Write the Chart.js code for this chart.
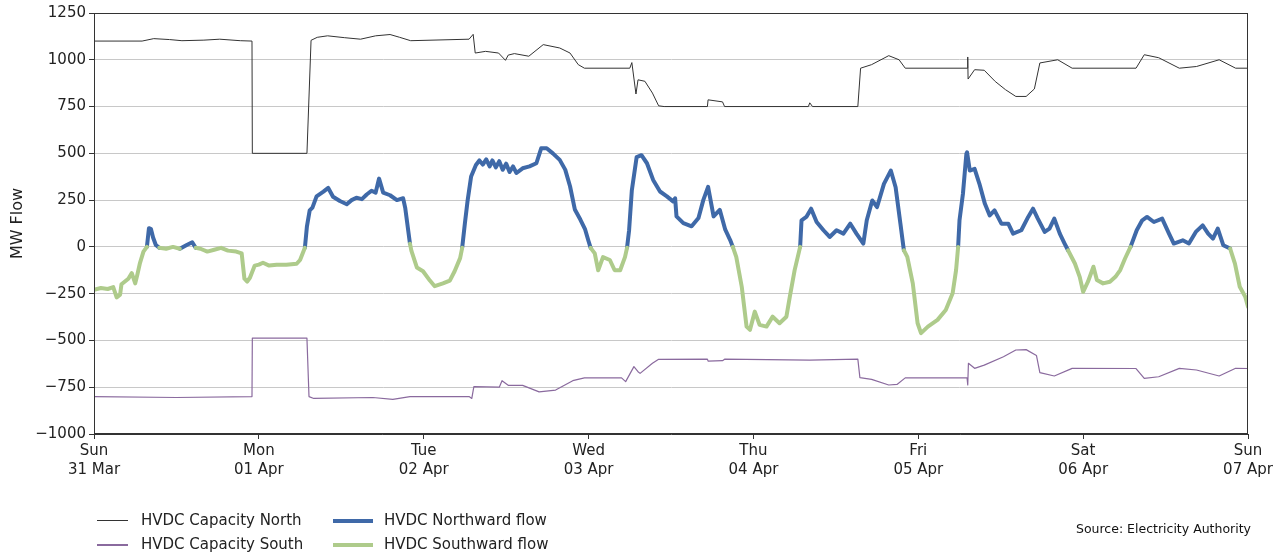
<!DOCTYPE html>
<html>
<head>
<meta charset="utf-8">
<script src="https://cdn.jsdelivr.net/npm/chart.js@4"></script>
<style>
  body { margin: 0; background: #fff; font-family: "DejaVu Sans", sans-serif; }
  #wrap { position: relative; width: 1288px; height: 556px; }
  #legend { position: absolute; left: 97px; top: 510px; font-size: 15px; color: #222; }
  .item { position: absolute; white-space: nowrap; height: 20px; line-height: 20px; }
  .item span { display: inline-block; vertical-align: middle; width: 31px; margin-right: 13px; }
  #source { position: absolute; right: 37px; top: 521px; font-size: 12.5px; color: #111; }
</style>
</head>
<body>
<div id="wrap">
  <canvas id="hvdc-chart" width="1288" height="556"></canvas>
  <div id="legend"></div>
  <div id="source">Source: Electricity Authority</div>
</div>
<script>
// x axis: hours from Sun 31 Mar 00:00
var dayNames = ["Sun", "Mon", "Tue", "Wed", "Thu", "Fri", "Sat", "Sun"];
var dayDates = ["31 Mar", "01 Apr", "02 Apr", "03 Apr", "04 Apr", "05 Apr", "06 Apr", "07 Apr"];
var yTicks = [-1000, -750, -500, -250, 0, 250, 500, 750, 1000, 1250];

var capNorthHours = [0, 7, 8.7, 11, 12.8, 16, 18.3, 21.3, 23.0, 23.05, 31.0, 31.6, 32.5, 34.0, 36.5, 38.8, 41, 43.1, 44.5, 46.1,
  54.6, 55.2, 55.5, 57.0, 58.9, 59.9, 60.3, 61.2, 63.3, 65.4, 67.8, 69.3, 70.5, 71.4, 78.0, 78.3, 78.9, 79.2, 80.2, 81.3,
  82.2, 83, 89.3, 89.4, 91.5, 91.8, 104.0, 104.2, 104.6, 111.2, 111.6, 113.2, 115.7, 117.2, 118.1, 127.1, 127.2, 127.25,
  128.2, 129.6, 131.2, 132.7, 134.2, 135.7, 136.9, 137.7, 140.3, 142.4, 151.7, 152.9, 155.0, 158.0, 160.5, 163.8, 166.2, 168];
var capNorth = [1100, 1100, 1113, 1108, 1102, 1105, 1110, 1102, 1100, 500, 500, 1104, 1120, 1128, 1118, 1110, 1128, 1135, 1120, 1102,
  1110, 1136, 1036, 1045, 1036, 997, 1025, 1033, 1019, 1081, 1063, 1036, 974, 955, 955, 985, 817, 893, 885, 822,
  754, 750, 750, 786, 775, 750, 750, 770, 750, 750, 955, 974, 1022, 1000, 955, 955, 1015, 897,
  947, 944, 884, 840, 804, 804, 844, 983, 1000, 955, 955, 1027, 1011, 955, 964, 1000, 955, 955];

var capSouthHours = [0, 12, 23.0, 23.05, 31.0, 31.3, 32, 40.6, 43.5, 46, 54.6, 55.0, 55.3, 59.0, 59.4, 60.3, 62.4, 64.8, 67.2, 69.7,
  71.4, 76.8, 77.4, 78.6, 79.2, 79.5, 81.3, 82.2, 89.3, 89.4, 91.5, 91.8, 104.2, 111.2, 111.5, 113.2, 115.7, 116.9, 118.1,
  127.1, 127.2, 127.3, 128.2, 129.6, 132.4, 134.2, 135.7, 137.2, 137.7, 139.8, 142.4, 151.7, 152.9, 155.0, 158.0, 160.5,
  163.8, 166.2, 168];
var capSouth = [-800, -805, -800, -488, -488, -800, -810, -805, -815, -800, -800, -810, -747, -750, -715, -740, -740, -775, -765, -715,
  -700, -700, -720, -640, -667, -676, -622, -601, -600, -610, -608, -600, -605, -600, -699, -708, -738, -735, -700,
  -700, -738, -622, -649, -632, -587, -551, -549, -580, -672, -690, -649, -650, -703, -694, -649, -658,
  -690, -649, -650];

var flowHours = [0, 1, 2, 2.8, 3.3, 3.8, 4.0, 4.5, 5.0, 5.5, 6.0, 6.3, 6.7, 7.2, 7.7, 8.0, 8.3, 8.6, 9.0, 9.5,
  10.5, 11.5, 12.5, 13.5, 14.3, 14.8, 15.5, 16.5, 17.5, 18.5, 19.5, 20.7, 21.5, 21.9, 22.3, 22.7, 23.4, 24.0, 24.6, 25.5,
  26.6, 28, 29.5, 30.0, 30.7, 31.0, 31.4, 31.8, 32.4, 33.4, 34.1, 34.8, 35.8, 36.8, 37.5, 38.2, 39.0, 39.7, 40.4, 41.0,
  41.5, 42.1, 43.1, 44.1, 45.0, 45.3, 46.0, 46.2, 47.0, 47.9, 48.9, 49.6, 50.8, 51.8, 52.5, 53.3, 53.6, 54.0, 54.4, 54.9,
  55.6, 56.1, 56.6, 57.1, 57.6, 58.0, 58.5, 59.0, 59.5, 60.0, 60.5, 61.0, 61.5, 62.4, 63.4, 64.4, 65.1, 65.9, 66.8, 67.8,
  68.6, 69.3, 70.0, 70.8, 71.5, 72.0,
  72.3, 72.9, 73.4, 74.1, 75.1, 75.8, 76.6, 77.3, 77.6, 77.9, 78.3, 79.0, 79.7, 80.5, 81.4, 82.4, 83.4, 84.3, 84.6, 84.8,
  85.8, 87.0, 88.0, 88.7, 89.4, 90.2, 91.1, 91.9, 92.6, 93.0, 93.5, 94.3, 95.0, 95.5, 96.2, 96.9, 97.9, 98.8, 99.8, 100.8,
  101.3, 102.0, 102.8, 103.0, 103.7, 104.4, 105.2, 106.2, 107.1, 108.1, 109.1, 110.1, 111.0, 112.0, 112.5, 113.3, 114.0, 115.0, 116.0, 116.7,
  117.4, 117.9, 118.4, 119.2, 119.9, 120.4, 121.4, 122.8, 124.0, 125.0, 125.5, 125.8, 126.0, 126.5, 127.0, 127.1, 127.5, 128.2, 128.9, 129.7,
  130.4, 131.1, 132.1, 133.1, 133.8, 135.0, 136.0, 136.7, 137.4, 138.4, 139.1, 139.8, 140.6, 141.3, 141.8, 142.8, 143.5, 144.0, 144.7, 145.5,
  146.0, 146.9, 147.9, 148.7, 149.4, 150.1, 150.9, 151.8, 152.6, 153.3, 154.3, 155.5, 156.5, 157.2, 158.5, 159.4, 160.4, 161.4, 162.2, 162.9,
  163.6, 164.4, 165.4, 166.1, 166.8, 167.6, 168];
var flow = [-230, -220, -225, -215, -270, -255, -200, -185, -170, -140, -195, -150, -85, -25, 0, 100, 95, 50, 10, -5,
  -10, 0, -10, 10, 25, -5, -10, -25, -15, -5, -20, -25, -35, -170, -185, -165, -100, -95, -85, -100,
  -95, -95, -90, -70, -5, 110, 195, 210, 270, 295, 315, 268, 245, 228, 250, 263, 255, 280, 300, 290,
  365, 290, 276, 250, 260, 210, 17, -20, -110, -130, -180, -210, -195, -180, -130, -60, -5, 128, 250, 376,
  438, 462, 440, 468, 430, 462, 425, 458, 412, 445, 400, 430, 395, 420, 430, 447, 527, 527, 500, 465,
  413, 324, 200, 146, 93, 30,
  -5, -35, -125, -55, -70, -125, -125, -55, -5, 89, 303, 480, 490, 447, 358, 296, 270, 243, 260, 163,
  127, 110, 154, 250, 321, 163, 198, 92, 38, 0, -53, -213, -426, -443, -346, -417, -426, -373, -408, -373,
  -266, -124, 0, 142, 160, 204, 133, 89, 53, 89, 71, 124, 71, 18, 142, 248, 213, 337, 408, 319,
  124, -18, -53, -195, -408, -461, -426, -390, -337, -248, -124, 0, 142, 284, 497, 505, 408, 417, 337, 230,
  168, 195, 124, 124, 71, 89, 160, 204, 151, 80, 98, 151, 71, 18, -18, -89, -160, -240, -186, -106,
  -177, -195, -186, -160, -124, -62, 0, 89, 142, 160, 133, 151, 71, 18, 35, 18, 80, 115, 71, 44,
  98, 9, -9, -89, -213, -266, -320];

function points(hours, values) {
    return hours.map(function(h, i) { return {x: h, y: values[i]}; });
}

var colNorthCap = "#333333";
var colSouthCap = "#8a6a9e";
var colNorthFlow = "#3f69a8";
var colSouthFlow = "#aecb8b";

function flowSegment(northward, color) {
    return function(ctx) {
        var mid = (ctx.p0.parsed.y + ctx.p1.parsed.y) / 2;
        return (mid >= 0) === northward ? color : "rgba(0,0,0,0)";
    };
}

var frame = {
    id: "frame",
    afterDraw: function(chart) {
        var a = chart.chartArea, c = chart.ctx;
        c.save();
        c.strokeStyle = "#333";
        c.lineWidth = 1;
        c.strokeRect(a.left + 0.5, a.top + 0.5, a.right - a.left - 1, a.bottom - a.top - 1);
        c.restore();
    }
};

var ctx = document.getElementById("hvdc-chart").getContext("2d");
var chart = new Chart(ctx, {
    type: "line",
    data: {
        datasets: [{
            label: "HVDC Capacity North",
            data: points(capNorthHours, capNorth),
            borderColor: colNorthCap,
            borderWidth: 1
        }, {
            label: "HVDC Capacity South",
            data: points(capSouthHours, capSouth),
            borderColor: colSouthCap,
            borderWidth: 1.2
        }, {
            label: "HVDC Southward flow",
            data: points(flowHours, flow),
            borderColor: colSouthFlow,
            borderWidth: 4,
            segment: { borderColor: flowSegment(false, colSouthFlow) }
        }, {
            label: "HVDC Northward flow",
            data: points(flowHours, flow),
            borderColor: colNorthFlow,
            borderWidth: 4,
            segment: { borderColor: flowSegment(true, colNorthFlow) }
        }]
    },
    options: {
        responsive: false,
        animation: false,
        layout: { padding: { left: 0, right: 40, top: 13, bottom: 0 } },
        elements: {
            point: { radius: 0 },
            line: { tension: 0, borderJoinStyle: "round", borderCapStyle: "round" }
        },
        plugins: {
            legend: { display: false },
            tooltip: { enabled: false }
        },
        scales: {
            x: {
                type: "linear",
                min: 0,
                max: 168,
                afterBuildTicks: function(scale) {
                    scale.ticks = dayNames.map(function(d, i) { return {value: i * 24}; });
                },
                afterFit: function(scale) { scale.height = 122; },
                grid: { drawOnChartArea: false, tickLength: 5, tickColor: "#333" },
                border: { color: "#333" },
                ticks: {
                    maxRotation: 0,
                    autoSkip: false,
                    padding: 3,
                    color: "#222",
                    font: { family: "DejaVu Sans", size: 15, lineHeight: 1.25 },
                    callback: function(v) {
                        var i = Math.round(v / 24);
                        return [dayNames[i], dayDates[i]];
                    }
                }
            },
            y: {
                min: -1000,
                max: 1250,
                afterBuildTicks: function(scale) {
                    scale.ticks = yTicks.map(function(v) { return {value: v}; });
                },
                afterFit: function(scale) { scale.width = 94; },
                grid: { color: "#c8c8c8", tickLength: 5, tickColor: "#333" },
                border: { color: "#333" },
                title: {
                    display: true,
                    text: "MW Flow",
                    color: "#222",
                    padding: { top: 8, bottom: 0 },
                    font: { family: "DejaVu Sans", size: 16 }
                },
                ticks: {
                    padding: 3,
                    color: "#222",
                    font: { family: "DejaVu Sans", size: 15 },
                    callback: function(v) { return String(v).replace("-", "\u2212"); }
                }
            }
        }
    },
    plugins: [frame]
});

// two-column legend like the original
var legendItems = [
    {label: "HVDC Capacity North", color: colNorthCap, width: 1, col: 0, row: 0},
    {label: "HVDC Capacity South", color: colSouthCap, width: 2, col: 0, row: 1},
    {label: "HVDC Northward flow", color: colNorthFlow, width: 4, col: 1, row: 0},
    {label: "HVDC Southward flow", color: colSouthFlow, width: 4, col: 1, row: 1}
];
var legend = document.getElementById("legend");
legendItems.forEach(function(it) {
    var div = document.createElement("div");
    div.className = "item";
    div.style.left = (it.col * 236) + "px";
    div.style.top = (it.row * 24) + "px";
    var sw = document.createElement("span");
    sw.style.borderTop = it.width + "px solid " + it.color;
    if (it.col === 1) { sw.style.width = "40px"; sw.style.marginRight = "11px"; }
    div.appendChild(sw);
    div.appendChild(document.createTextNode(it.label));
    legend.appendChild(div);
});
</script>
</body>
</html>
